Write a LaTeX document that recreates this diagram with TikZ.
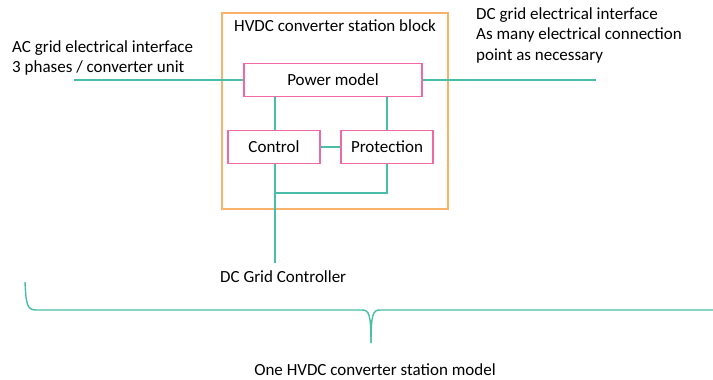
\documentclass[tikz,border=0pt]{standalone}
\usepackage{fontspec}
\setmainfont{Carlito}
\usetikzlibrary{calc}

\definecolor{linkteal}{RGB}{72,189,170}
\definecolor{boxpink}{RGB}{240,105,165}
\definecolor{boxorange}{RGB}{248,178,105}

\tikzset{
  modbox/.style={draw=boxpink, line width=1.3pt, minimum height=33pt, inner sep=0pt, font=\fontsize{17}{20}\selectfont},
  link/.style={draw=linkteal, line width=1.4pt},
  lbl/.style={inner sep=0pt, align=left, font=\fontsize{17}{20.5}\selectfont}
}

\begin{document}
\begin{tikzpicture}[x=1pt,y=-1pt]
  \useasboundingbox (0,0) rectangle (713,380);

  % station block
  \draw[boxorange, line width=1.2pt] (222,13) rectangle (448,209);
  \node[lbl, anchor=west] (title) at (234,26) {HVDC converter station block};

  % sub models
  \node[modbox, minimum width=178pt] (power) at (333,80) {Power model};
  \node[modbox, minimum width=92pt] (ctrl) at (274,147) {Control};
  \node[modbox, minimum width=92pt] (prot) at (387,147) {Protection};

  \coordinate (acend) at (74,80);
  \coordinate (dcend) at (596,80);
  \coordinate (busL) at (275,193);
  \coordinate (busR) at (387,193);
  \coordinate (gridc) at (275,263);

  \draw[link] (acend) -- (power.west);
  \draw[link] (power.east) -- (dcend);
  \draw[link] (power.south -| busL) -- (ctrl.north -| busL);
  \draw[link] (power.south -| busR) -- (prot.north -| busR);
  \draw[link] (ctrl.east) -- (prot.west);
  \draw[link] (ctrl.south -| busL) -- (gridc);
  \draw[link] (prot.south -| busR) -- (busR) -- (busL);

  % interface labels
  \node[lbl, anchor=west] (aclbl) at (12,58) {AC grid electrical interface\\3 phases / converter unit};
  \node[lbl, anchor=west] (dclbl) at (476,35) {DC grid electrical interface\\As many electrical connection\\point as necessary};
  \node[lbl, anchor=west] (gclbl) at (220,277) {DC Grid Controller};

  % brace
  \coordinate (brL) at (25,282);
  \coordinate (brM) at (371,343);
  \draw[link] (brL) .. controls (26,304) and (27,310) .. (36,310)
    -- (362,310) .. controls (369,310) and (371,314) .. (brM);
  \draw[link] (brM) .. controls (371,314) and (373,310) .. (380,310) -- (713,310);
  \node[lbl, anchor=center] (model) at (375,370) {One HVDC converter station model};
\end{tikzpicture}
\end{document}
